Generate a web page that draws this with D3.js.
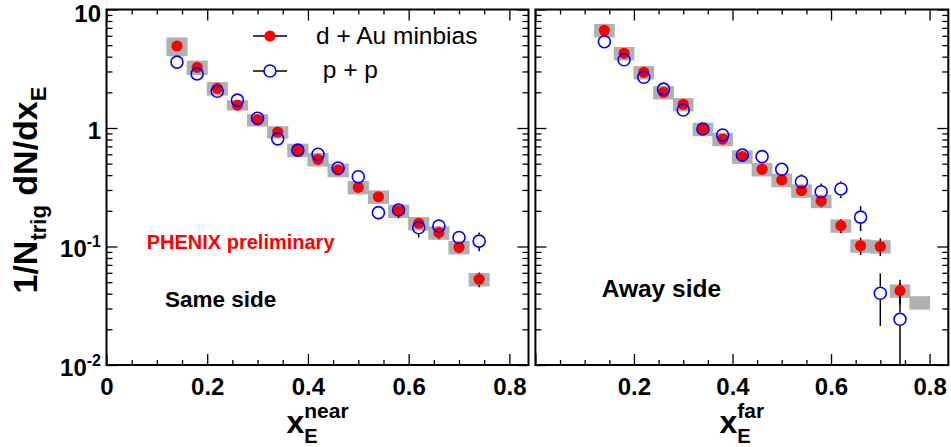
<!DOCTYPE html>
<html>
<head>
<meta charset="utf-8">
<script src="https://cdn.jsdelivr.net/npm/d3@7"></script>
<style>
  body { margin: 0; background: #fff; }
  svg text { font-family: "Liberation Sans", Arial, Helvetica, sans-serif; }
  .axis text { font-size: 24px; font-weight: bold; fill: #000; }
  .axis line { stroke: #000; stroke-width: 1.3; }
  .axis path { display: none; }
</style>
</head>
<body>
<div id="chart"></div>
<script>
// x_E bin centres (same for both sides)
const xBins = [0.14, 0.18, 0.22, 0.26, 0.30, 0.34, 0.38, 0.42, 0.46, 0.50, 0.54, 0.58, 0.62, 0.66, 0.70, 0.74];

// same side (near)
const dAuNear    = [4.92, 3.25, 2.16, 1.56, 1.17, 0.925, 0.652, 0.544, 0.442, 0.316, 0.263, 0.200, 0.157, 0.131, 0.0985, 0.0529];
const dAuNearErr = [0.05, 0.04, 0.03, 0.02, 0.015, 0.012, 0.01, 0.01, 0.01, 0.01, 0.012, 0.02, 0.016, 0.016, 0.011, 0.0075];
const dAuNearSys = [0.18, 0.14, 0.13, 0.10, 0.12, 0.12, 0.13, 0.13, 0.13, 0.13, 0.13, 0.13, 0.13, 0.13, 0.13, 0.13];
const ppNear     = [3.60, 2.86, 2.04, 1.72, 1.21, 0.81, 0.65, 0.60, 0.46, 0.388, 0.193, 0.203, 0.144, 0.149, 0.119, 0.111];
const ppNearErr  = [0.04, 0.03, 0.02, 0.02, 0.015, 0.012, 0.012, 0.012, 0.02, 0.03, 0.025, 0.03, 0.025, 0.02, 0.016, 0.02];

// away side (far)
const dAuFar     = [6.68, 4.27, 2.95, 2.00, 1.585, 0.98, 0.807, 0.573, 0.448, 0.364, 0.296, 0.242, 0.150, 0.1016, 0.100, 0.0424];
const dAuFarErr  = [0.06, 0.04, 0.03, 0.02, 0.015, 0.012, 0.012, 0.015, 0.015, 0.02, 0.025, 0.028, 0.02, 0.017, 0.017, 0.01];
const dAuFarSys  = [0.13, 0.13, 0.13, 0.13, 0.13, 0.13, 0.13, 0.13, 0.13, 0.13, 0.13, 0.13, 0.13, 0.13, 0.13, 0.13];
const ppFar      = [5.35, 3.77, 2.68, 2.13, 1.42, 0.98, 0.873, 0.592, 0.573, 0.448, 0.352, 0.290, 0.306, 0.177, 0.0403, 0.0243];
const ppFarErr   = [0.05, 0.04, 0.03, 0.02, 0.02, 0.015, 0.02, 0.025, 0.04, 0.035, 0.055, 0.05, 0.05, 0.042, 0.019, 0.025];
// lone systematic box past the last away-side point
const farExtraBoxX = [0.78];
const farExtraBoxY = [0.0337];

// axes
const xMajor = [0, 0.2, 0.4, 0.6, 0.8];
const xMinor = d3.range(0.05, 0.84, 0.05).filter(v => Math.abs(v / 0.2 - Math.round(v / 0.2)) > 1e-6);
const yDecades = [0.01, 0.1, 1, 10];
const yDecadeLabels = [["10", "-2"], ["10", "-1"], ["1", ""], ["10", ""]];
const legendLabels = ["d + Au minbias", " p + p"];

const W = 951, H = 447;
const plotTop = 9.5, plotBottom = 365;
const panels = [
  { x0: 106.5, x1: 528.5, dAu: dAuNear, dAuErr: dAuNearErr, sys: dAuNearSys, pp: ppNear, ppErr: ppNearErr, labelZero: true, tag: "near" },
  { x0: 535.4, x1: 948.3, dAu: dAuFar, dAuErr: dAuFarErr, sys: dAuFarSys, pp: ppFar, ppErr: ppFarErr, labelZero: false, tag: "far" }
];

const svg = d3.select("#chart").append("svg")
  .attr("width", W).attr("height", H);

const y = d3.scaleLog().domain([0.01, 10]).range([plotBottom, plotTop]);
const yMinor = [];
yDecades.slice(0, 3).forEach(d => { for (let k = 2; k <= 9; k++) yMinor.push(d * k); });

const rRed = 5.6, rBlue = 6;

panels.forEach((p, pi) => {
  const x = d3.scaleLinear().domain([0, 0.838]).range([p.x0, p.x1]);
  const g = svg.append("g");

  // systematic boxes
  const boxes = xBins.map((b, i) => ({ x: b, v: p.dAu[i], s: p.sys[i] }));
  if (pi === 1) farExtraBoxX.forEach((b, i) => boxes.push({ x: b, v: farExtraBoxY[i], s: 0.13 }));
  g.selectAll("rect.sys").data(boxes).enter().append("rect")
    .attr("class", "sys")
    .attr("x", d => x(d.x - 0.021))
    .attr("width", d => x(d.x + 0.021) - x(d.x - 0.021))
    .attr("y", d => y(d.v * (1 + d.s)))
    .attr("height", d => y(d.v * (1 - d.s)) - y(d.v * (1 + d.s)))
    .attr("fill", "#b0b0b0");

  // error bars (gap where the marker sits)
  const errs = [];
  xBins.forEach((b, i) => {
    errs.push({ x: b, v: p.dAu[i], e: p.dAuErr[i], r: rRed });
    errs.push({ x: b, v: p.pp[i], e: p.ppErr[i], r: rBlue + 0.7 });
  });
  errs.forEach(d => {
    const yc = y(d.v);
    const yHi = y(d.v + d.e);
    const yLo = d.v - d.e > 0.01 ? y(d.v - d.e) : plotBottom;
    if (yc - yHi > d.r) g.append("line").attr("x1", x(d.x)).attr("x2", x(d.x))
      .attr("y1", yHi).attr("y2", yc - d.r).attr("stroke", "#000").attr("stroke-width", 1.5);
    if (yLo - yc > d.r) g.append("line").attr("x1", x(d.x)).attr("x2", x(d.x))
      .attr("y1", yc + d.r).attr("y2", yLo).attr("stroke", "#000").attr("stroke-width", 1.5);
  });

  // markers
  g.selectAll("circle.dau").data(p.dAu).enter().append("circle")
    .attr("class", "dau")
    .attr("cx", (d, i) => x(xBins[i])).attr("cy", d => y(d))
    .attr("r", rRed).attr("fill", "#ff0000");
  g.selectAll("circle.pp").data(p.pp).enter().append("circle")
    .attr("class", "pp")
    .attr("cx", (d, i) => x(xBins[i])).attr("cy", d => y(d))
    .attr("r", rBlue).attr("fill", "none").attr("stroke", "#0000ff").attr("stroke-width", 1.6);

  // x axes (ticks inward, bottom and top)
  const bx = g.append("g").attr("class", "axis").attr("transform", `translate(0,${plotBottom})`);
  bx.call(d3.axisBottom(x).tickValues(xMajor).tickSize(-11).tickPadding(13)
    .tickFormat(d => (d === 0 ? (p.labelZero ? "0" : "") : d3.format(".1f")(d))));
  bx.append("g").call(d3.axisBottom(x).tickValues(xMinor).tickSize(-5).tickFormat(""));
  const tx = g.append("g").attr("class", "axis").attr("transform", `translate(0,${plotTop})`);
  tx.call(d3.axisTop(x).tickValues(xMajor).tickSize(-11).tickFormat(""));
  tx.append("g").call(d3.axisTop(x).tickValues(xMinor).tickSize(-5).tickFormat(""));

  // y axes (ticks inward, left and right)
  const ly = g.append("g").attr("class", "axis").attr("transform", `translate(${p.x0},0)`);
  ly.call(d3.axisLeft(y).tickValues(yDecades).tickSize(-11).tickFormat(""));
  ly.append("g").call(d3.axisLeft(y).tickValues(yMinor).tickSize(-6).tickFormat(""));
  const ry = g.append("g").attr("class", "axis").attr("transform", `translate(${p.x1},0)`);
  ry.call(d3.axisRight(y).tickValues(yDecades).tickSize(-11).tickFormat(""));
  ry.append("g").call(d3.axisRight(y).tickValues(yMinor).tickSize(-6).tickFormat(""));

  // frame
  g.append("rect")
    .attr("x", p.x0).attr("y", plotTop)
    .attr("width", p.x1 - p.x0).attr("height", plotBottom - plotTop)
    .attr("fill", "none").attr("stroke", "#000").attr("stroke-width", 2);

  // x title: x_E^{near|far}
  const cx = (p.x0 + p.x1) / 2;
  const tg = g.append("g");
  const xt = tg.append("text").attr("y", 433).attr("font-size", 32).attr("font-weight", "bold").text("x");
  const xw = xt.node().getComputedTextLength();
  const sup = tg.append("text").attr("x", xw).attr("y", 418).attr("font-size", 21).attr("font-weight", "bold").text(p.tag);
  tg.append("text").attr("x", xw).attr("y", 443).attr("font-size", 20).attr("font-weight", "bold").text("E");
  const tw = xw + sup.node().getComputedTextLength();
  tg.attr("transform", `translate(${cx - tw / 2},0)`);
});

// y tick labels (left panel only); the top one is kept inside the page
const yl = svg.append("g");
yDecades.forEach((d, i) => {
  const [base, ex] = yDecadeLabels[i];
  const t = yl.append("text")
    .attr("x", 101).attr("y", Math.max(y(d) + 10.6, 22))
    .attr("text-anchor", "end")
    .attr("font-size", 24).attr("font-weight", "bold")
    .text(base);
  if (ex) t.append("tspan").attr("font-size", 16).attr("dy", "-0.62em").text(ex);
});

// y title
const ytitle = svg.append("text")
  .attr("transform", "translate(37,190) rotate(-90)")
  .attr("text-anchor", "middle")
  .attr("font-size", 34).attr("font-weight", "bold");
ytitle.append("tspan").text("1/N");
ytitle.append("tspan").attr("font-size", 22).attr("dy", 9).text("trig");
ytitle.append("tspan").attr("dy", -9).text(" dN/dx");
ytitle.append("tspan").attr("font-size", 22).attr("dy", 9).text("E");

// legend
const legend = svg.append("g");
[{ fill: "#ff0000", stroke: "none", r: rRed }, { fill: "none", stroke: "#0000ff", r: rBlue }].forEach((m, i) => {
  const ly = 36 + i * 35;
  legend.append("line").attr("x1", 253).attr("x2", 287).attr("y1", ly).attr("y2", ly)
    .attr("stroke", "#000").attr("stroke-width", 1.3);
  legend.append("circle").attr("cx", 270).attr("cy", ly).attr("r", m.r)
    .attr("fill", m.fill === "none" ? "#fff" : m.fill).attr("stroke", m.stroke).attr("stroke-width", 1.6);
  legend.append("text").attr("x", 316).attr("y", 43.5 + i * 34)
    .attr("font-size", 24.5).style("white-space", "pre")
    .text(legendLabels[i]);
});

// annotations
svg.append("text").attr("x", 146.7).attr("y", 249)
  .attr("font-size", 20).attr("font-weight", "bold").attr("fill", "#ff0000")
  .text("PHENIX preliminary");
svg.append("text").attr("x", 165).attr("y", 306.7)
  .attr("font-size", 22.5).attr("font-weight", "bold")
  .text("Same side");
svg.append("text").attr("x", 601.7).attr("y", 296.7)
  .attr("font-size", 24.5).attr("font-weight", "bold")
  .text("Away side");
</script>
</body>
</html>
